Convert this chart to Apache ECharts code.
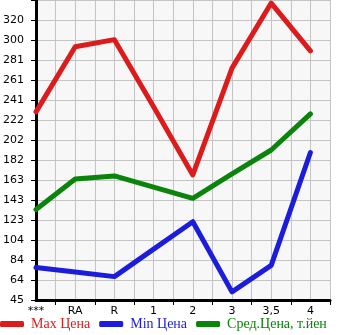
<!DOCTYPE html>
<html><head><meta charset="utf-8">
<script src="https://cdn.jsdelivr.net/npm/echarts@6/dist/echarts.min.js"></script>
<style>html,body{margin:0;padding:0;background:#fff}#c{width:345px;height:335px}</style>
</head><body><div id="c"></div>
<script>
var categories = ['***', 'RA', 'R', '1', '2', '3', '3,5', '4'];
var maxPrice = [230, 294, 301, 235, 168, 273, 337, 290];
var minPrice = [77, 72.5, 68, 95, 122, 53, 79, 190];
var avgPrice = [134, 164, 167, 156, 145, 169, 192.5, 228];
var yTickLabels = ['45', '64', '84', '104', '123', '143', '163', '182', '202', '222', '241', '261', '281', '300', '320', ''];
var yMin = 45, yMax = 340;
var seriesNames = ['Max Цена', 'Min Цена', 'Сред.Цена, т.йен'];
var colors = ['#dc1c1c', '#1c1cdc', '#0a840a'];

// half-step category slots: each category followed by a blank slot
var slots = [];
categories.forEach(function (c) { slots.push(c); slots.push(''); });
function spread(arr) {
  var out = [];
  arr.forEach(function (v) { out.push(v); out.push(null); });
  return out;
}
var chart = echarts.init(document.getElementById('c'));
var font = 'DejaVu Sans';
chart.setOption({
  animation: false,
  backgroundColor: '#fff',
  grid: { left: 31, right: 15, top: 0, bottom: 35, show: true, backgroundColor: '#f7f7f7', borderWidth: 0 },
  legend: {
    left: 0, top: 317, padding: 0, itemWidth: 24, itemHeight: 6, itemGap: 9,
    icon: 'roundRect',
    textStyle: { fontFamily: 'Liberation Serif', fontSize: 14, padding: [0, 0, 0, 2] },
    data: seriesNames.map(function (n, i) { return { name: n, textStyle: { color: colors[i] } }; })
  },
  xAxis: {
    type: 'category', data: slots, boundaryGap: false,
    axisLine: { lineStyle: { color: '#000', width: 3 } },
    axisTick: { show: true, length: 5, lineStyle: { color: '#000', width: 1 }, interval: function (i) { return i % 2 === 1; } },
    axisLabel: { interval: 0, color: '#000', fontFamily: font, fontSize: 11, margin: 6 },
    splitLine: { show: true, interval: 0, lineStyle: { color: '#c4c4c4', width: 1 } }
  },
  yAxis: [{
    type: 'value', min: 0, max: 15, interval: 1,
    axisLine: { show: true, lineStyle: { color: '#000', width: 3 } },
    axisTick: { show: true, length: 5, lineStyle: { color: '#000', width: 1 } },
    axisLabel: { color: '#000', fontFamily: font, fontSize: 11, margin: 12, padding: [0, 0, 6, 0],
      formatter: function (v) { return yTickLabels[Math.round(v)] || ''; } },
    splitLine: { show: true, lineStyle: { color: '#c4c4c4', width: 1 } }
  }, {
    type: 'value', min: yMin, max: yMax, show: false, splitLine: { show: false }
  }],
  series: [maxPrice, minPrice, avgPrice].map(function (d, i) {
    return {
      name: seriesNames[i], type: 'line', yAxisIndex: 1, data: spread(d), connectNulls: true,
      symbol: 'none', color: colors[i],
      lineStyle: { color: colors[i], width: 5, cap: 'round', join: 'round' }
    };
  })
});
</script></body></html>
